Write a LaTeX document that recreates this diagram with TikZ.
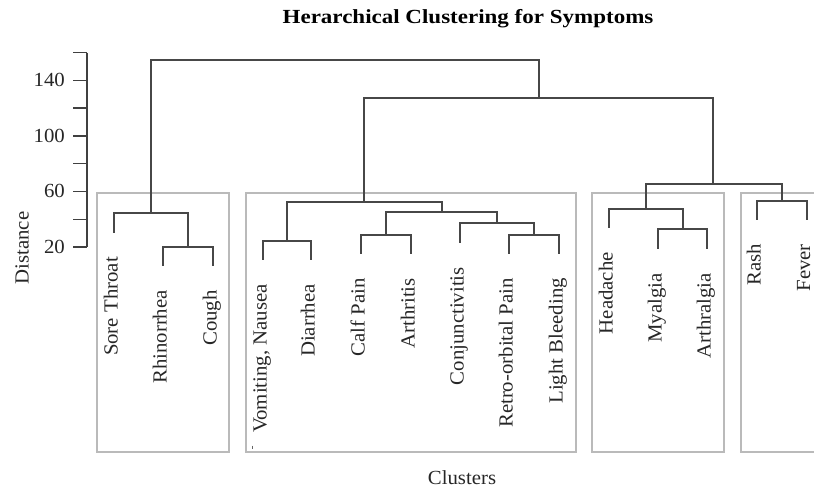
\documentclass[tikz,border=0pt]{standalone}
\usepackage{fontspec}
\setmainfont{Liberation Serif}[FakeStretch=1.04]
\newfontfamily\titlefont{Liberation Serif}[FakeStretch=1.15]
\begin{document}
\begin{tikzpicture}[x=1pt,y=-1pt,
  link/.style={draw=black!72,line width=1.4pt,line cap=rect},
  clusterbox/.style={draw=black!27,line width=1.2pt},
  axisline/.style={draw=black!75,line width=1.4pt},
  leaflabel/.style={rotate=90,anchor=base east,inner sep=0pt,font=\fontsize{20}{22}\selectfont,text=black!85},
  ticklabel/.style={anchor=east,inner sep=0pt,font=\fontsize{20}{22}\selectfont,text=black!85},
  axislabel/.style={inner sep=0pt,font=\fontsize{20}{22}\selectfont,text=black!85}]
\useasboundingbox (0,0) rectangle (814,493);
% title
\node[inner sep=0pt,font=\titlefont\bfseries\fontsize{20}{22}\selectfont] (title) at (468,19) {Herarchical Clustering for Symptoms};
% cluster boxes
\draw[clusterbox] (97,193) rectangle (229,452);
\draw[clusterbox] (246,193) rectangle (576,452);
\draw[clusterbox] (592,193) rectangle (724,452);
\draw[clusterbox] (741,193) rectangle (840,452);
% axis
\coordinate (axtop) at (87,52.5);
\coordinate (axbot) at (87,247);
\draw[axisline] (axtop) -- (axbot);
\foreach \v in {20,40,...,160} {
  \draw[axisline] (73,{247-(\v-20)*1.3893}) -- (87,{247-(\v-20)*1.3893});
}
\foreach \v in {20,60,100,140} {
  \node[ticklabel] (tick\v) at (65,{247-(\v-20)*1.3893}) {\v};
}
\node[axislabel,rotate=90] (ylab) at (22,248) {Distance};
\node[axislabel] (xlab) at (462,478) {Clusters};
% merge points
\coordinate (root) at (345,60);
\coordinate (A) at (151,213);
\coordinate (A2) at (188,247);
\coordinate (B) at (539,98);
\coordinate (C) at (364,202);
\coordinate (C1) at (287,241);
\coordinate (C2) at (442,212);
\coordinate (C3) at (386,235);
\coordinate (C4) at (497,223);
\coordinate (C5) at (534,235);
\coordinate (D) at (713,184);
\coordinate (E) at (646,209);
\coordinate (E2) at (683,229);
\coordinate (F) at (782,201);
% leaves
\coordinate (sore) at (114,232);
\coordinate (rhin) at (163,265);
\coordinate (cough) at (213,265);
\coordinate (vom) at (263,259);
\coordinate (diar) at (311,259);
\coordinate (calf) at (361,253);
\coordinate (arth) at (411,253);
\coordinate (conj) at (460,242);
\coordinate (retro) at (509,253);
\coordinate (light) at (559,253);
\coordinate (head) at (609,227);
\coordinate (myal) at (658,248);
\coordinate (arthr) at (707,248);
\coordinate (rash) at (757,219);
\coordinate (fever) at (807,219);
% links
\draw[link] (root) -| (A);
\draw[link] (root) -| (B);
\draw[link] (A) -| (sore);
\draw[link] (A) -| (A2);
\draw[link] (A2) -| (rhin);
\draw[link] (A2) -| (cough);
\draw[link] (B) -| (C);
\draw[link] (B) -| (D);
\draw[link] (C) -| (C1);
\draw[link] (C) -| (C2);
\draw[link] (C1) -| (vom);
\draw[link] (C1) -| (diar);
\draw[link] (C2) -| (C3);
\draw[link] (C2) -| (C4);
\draw[link] (C3) -| (calf);
\draw[link] (C3) -| (arth);
\draw[link] (C4) -| (conj);
\draw[link] (C4) -| (C5);
\draw[link] (C5) -| (retro);
\draw[link] (C5) -| (light);
\draw[link] (D) -| (E);
\draw[link] (D) -| (F);
\draw[link] (E) -| (head);
\draw[link] (E) -| (E2);
\draw[link] (E2) -| (myal);
\draw[link] (E2) -| (arthr);
\draw[link] (F) -| (rash);
\draw[link] (F) -| (fever);
% leaf labels
\node[leaflabel] (lsore) at ([xshift=3.5,yshift=-25]sore) {Sore Throat};
\node[leaflabel] (lrhin) at ([xshift=3.5,yshift=-25]rhin) {Rhinorrhea};
\node[leaflabel] (lcough) at ([xshift=3.5,yshift=-25]cough) {Cough};
\node[leaflabel] (lvom) at ([xshift=3.5,yshift=-25]vom) {Vomiting, Nausea};
\node[leaflabel] (ldiar) at ([xshift=3.5,yshift=-25]diar) {Diarrhea};
\node[leaflabel] (lcalf) at ([xshift=3.5,yshift=-25]calf) {Calf Pain};
\node[leaflabel] (larth) at ([xshift=3.5,yshift=-25]arth) {Arthritis};
\node[leaflabel] (lconj) at ([xshift=3.5,yshift=-25]conj) {Conjunctivitis};
\node[leaflabel] (lretro) at ([xshift=3.5,yshift=-25]retro) {Retro-orbital Pain};
\node[leaflabel] (llight) at ([xshift=3.5,yshift=-25]light) {Light Bleeding};
\node[leaflabel] (lhead) at ([xshift=3.5,yshift=-25]head) {Headache};
\node[leaflabel] (lmyal) at ([xshift=3.5,yshift=-25]myal) {Myalgia};
\node[leaflabel] (larthr) at ([xshift=3.5,yshift=-25]arthr) {Arthralgia};
\node[leaflabel] (lrash) at ([xshift=3.5,yshift=-25]rash) {Rash};
\node[leaflabel] (lfever) at ([xshift=3,yshift=-25]fever) {Fever};
% stray mark
\coordinate (mk1) at (252.5,445.5);
\coordinate (mk2) at (252.5,448.5);
\draw[draw=black!60,line width=1pt] (mk1) -- (mk2);
\end{tikzpicture}
\end{document}
